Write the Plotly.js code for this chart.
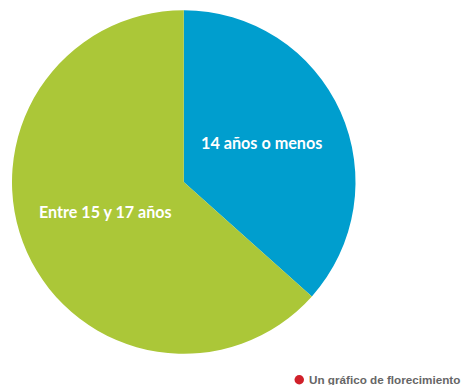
<!DOCTYPE html>
<html>
<head>
<meta charset="utf-8">
<script src="https://cdn.plot.ly/plotly-3.0.1.min.js"></script>
<style>html,body{margin:0;padding:0;background:#fff}#chart{width:463px;height:385px}</style>
</head>
<body>
<div id="chart"></div>
<script>
const ageGroups = ["14 años o menos", "Entre 15 y 17 años"];
const shares = [36.6, 63.4];
const sliceColors = ["#009ECE", "#ABC738"];
const W = 463, H = 385;

const trace = {
  type: "pie",
  labels: ageGroups,
  values: shares,
  sort: false,
  direction: "clockwise",
  rotation: 0,
  textinfo: "none",
  hoverinfo: "label+percent",
  marker: {colors: sliceColors, line: {width: 0}},
  domain: {x: [12 / W, 355.5 / W], y: [1 - 354 / H, 1 - 10 / H]}
};

// Slice captions and the credit line sit at fixed page positions
function pageLabel(text, x, y, size, color, family, anchor) {
  return {
    text: text, xref: "paper", yref: "paper",
    x: x / W, y: 1 - y / H, xanchor: anchor, yanchor: "middle",
    showarrow: false,
    font: {size: size, color: color, family: family}
  };
}

const layout = {
  width: W, height: H,
  margin: {l: 0, r: 0, t: 0, b: 0},
  paper_bgcolor: "#fff",
  showlegend: false,
  annotations: [
    pageLabel("<b>14 años o menos</b>", 261.5, 142, 16.2, "#fff", "Lato, sans-serif", "center"),
    pageLabel("<b>Entre 15 y 17 años</b>", 105, 212, 16.1, "#fff", "Lato, sans-serif", "center"),
    pageLabel("<b>Un gráfico de florecimiento</b>", 307, 379.5, 11.7, "#666", "Liberation Sans, sans-serif", "left")
  ],
  // Small round marker beside the credit line
  shapes: [{
    type: "circle", xref: "paper", yref: "paper",
    x0: 294.5 / W, x1: 304 / W, y0: 1 - 384.5 / H, y1: 1 - 375 / H,
    fillcolor: "#D0202A", line: {width: 0}
  }]
};

Plotly.newPlot("chart", [trace], layout, {displayModeBar: false, staticPlot: true});
</script>
</body>
</html>
